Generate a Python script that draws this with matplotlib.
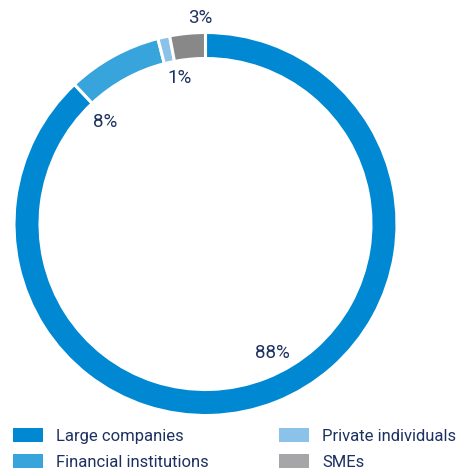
import matplotlib.pyplot as plt
from matplotlib.patches import Patch

segments = ['Large companies', 'Financial institutions', 'Private individuals', 'SMEs']
shares = [88, 8, 1, 3]
ring_colors = ['#0089d2', '#37a4dc', '#8ac2ea', '#888888']
legend_colors = ['#0089d2', '#37a4dc', '#8ac2ea', '#a6a6a9']

# where each percentage sits (data units, ring radius = 1)
label_pos = [(0.352, -0.674), (-0.525, 0.533), (-0.133, 0.762), (-0.029, 1.076)]

navy = '#1d3161'
plt.rcParams['font.family'] = ['Roboto', 'DejaVu Sans']

W, H = 462, 474
fig = plt.figure(figsize=(W / 100, H / 100), dpi=100)

cx, cy, R = 205.5, 224, 191.5
ax = fig.add_axes([(cx - R) / W, (H - cy - R) / H, 2 * R / W, 2 * R / H])
ax.pie(shares, colors=ring_colors, startangle=90, counterclock=False, radius=1,
       wedgeprops=dict(width=26 / R, edgecolor='white', linewidth=2.2))
ax.set_xlim(-1, 1)
ax.set_ylim(-1, 1)
ax.set_aspect('equal')
ax.axis('off')

for v, (x, y) in zip(shares, label_pos):
    ax.text(x, y, f'{v}%', ha='center', va='center', fontsize=13.5, color=navy,
            clip_on=False)

handles = [Patch(facecolor=c, edgecolor='none') for c in legend_colors]
for i, xpos in enumerate([13, 279]):
    leg = fig.legend(handles[2 * i:2 * i + 2], segments[2 * i:2 * i + 2],
                     loc='upper left', bbox_to_anchor=(xpos / W, 1 - 428 / H),
                     frameon=False, fontsize=12, handlelength=1.8,
                     handleheight=0.9, handletextpad=0.8, labelspacing=0.62,
                     borderpad=0, borderaxespad=0, labelcolor=navy)

fig.savefig('out.png', dpi=100)
